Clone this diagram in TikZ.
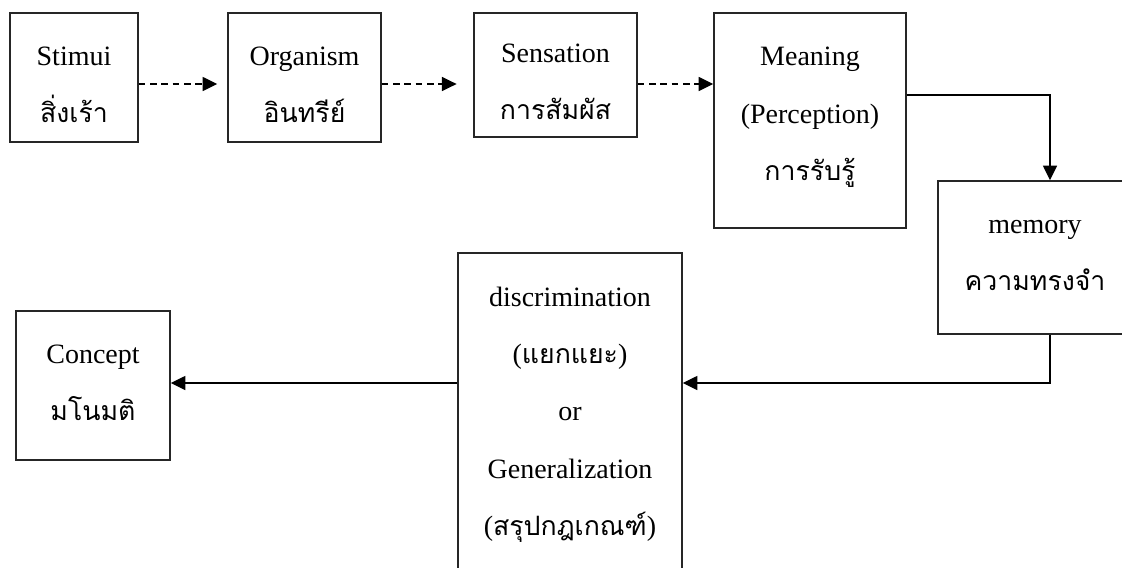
\documentclass[tikz,border=0pt]{standalone}
\usepackage{fontspec}
\setmainfont{Liberation Serif}
\newfontfamily\thaifont[Script=Thai]{Loma}
\usetikzlibrary{arrows.meta}
\newcommand{\thtext}[1]{{\thaifont\fontsize{20}{43}\selectfont #1}}
\tikzset{
	box/.style={draw=black!85, line width=1.1pt, inner sep=0pt},
	words/.style={align=center, inner sep=0pt, font=\fontsize{21}{43}\selectfont},
	flow/.style={line width=1.1pt, -{Triangle[length=11pt,width=10.5pt]}},
	dashflow/.style={flow, dash pattern=on 5pt off 3.5pt}
}

\begin{document}
\begin{tikzpicture}[x=0.75pt, y=-0.75pt]
	\useasboundingbox (0,0) rectangle (1122,568);

	% Top row
	\node[box, minimum width=96pt, minimum height=96.75pt] (stimui) at (74,77.5) {};
	\node[words] (stimuiT) at ([yshift=-5.25pt]stimui.center) {Stimui\\\thtext{สิ่งเร้า}};
	\node[box, minimum width=114.75pt, minimum height=96.75pt] (organism) at (304.5,77.5) {};
	\node[words] (organismT) at ([yshift=-5.25pt]organism.center) {Organism\\\thtext{อินทรีย์}};
	\node[box, minimum width=122.25pt, minimum height=93pt] (sensation) at (555.5,75) {};
	\node[words] (sensationT) at ([yshift=-5.25pt]sensation.center) {Sensation\\\thtext{การสัมผัส}};
	\node[box, minimum width=144pt, minimum height=161.25pt] (meaning) at (810,120.5) {};
	\node[words] (meaningT) at ([yshift=2.25pt]meaning.center)
		{Meaning\\(Perception)\\\thtext{การรับรู้}};

	% Right and bottom row
	\node[box, minimum width=145.5pt, minimum height=114.75pt] (memory) at (1035,257.5) {};
	\node[words] (memoryT) at ([yshift=1.5pt]memory.center) {memory\\\thtext{ความทรงจำ}};
	\node[box, minimum width=168pt, minimum height=239.25pt] (discr) at (570,412.5) {};
	\node[words] (discrT) at ([yshift=-1.5pt]discr.center)
		{discrimination\\(\thtext{แยกแยะ})\\or\\Generalization\\(\thtext{สรุปกฎเกณฑ์})};
	\node[box, minimum width=115.5pt, minimum height=111.75pt] (concept) at (93,385.5) {};
	\node[words] (conceptT) at ([yshift=2.25pt]concept.center) {Concept\\\thtext{มโนมติ}};

	% Dashed arrows
	\draw[dashflow, shorten >=7.5pt] (stimui.east |- 0,84) -- (organism.west |- 0,84);
	\draw[dashflow, shorten >=12.5pt] (organism.east |- 0,84) -- (sensation.west |- 0,84);
	\draw[dashflow] (sensation.east |- 0,84) -- (meaning.west |- 0,84);

	% Solid arrows
	\draw[flow] (meaning.east |- 0,95) -| (memory.north -| 1050,0);
	\draw[flow] (memory.south -| 1050,0) |- (discr.east |- 0,383);
	\draw[flow] (discr.west |- 0,383) -- (concept.east |- 0,383);
\end{tikzpicture}
\end{document}
